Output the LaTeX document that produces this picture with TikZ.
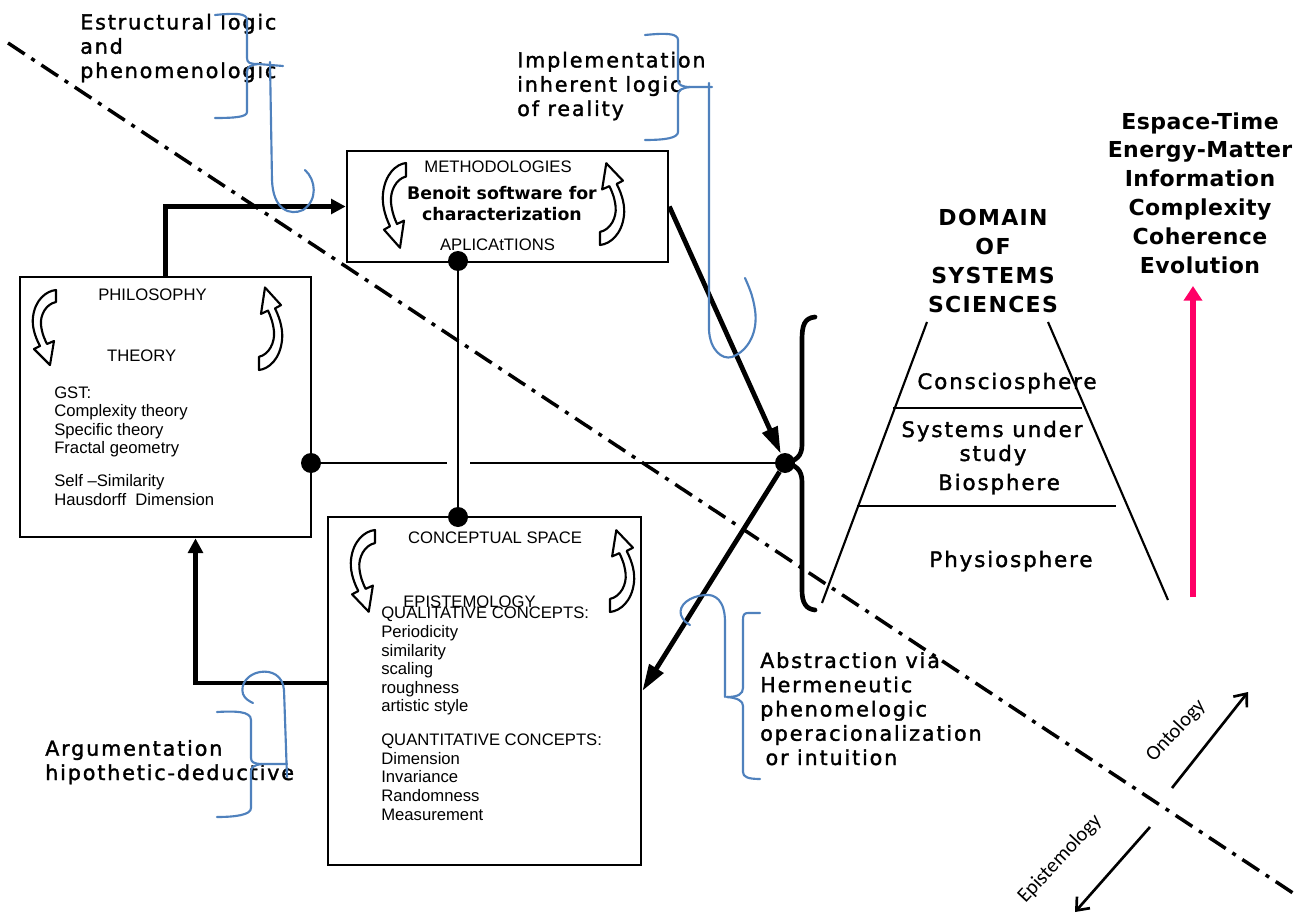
\documentclass[tikz,border=0pt]{standalone}
\usepackage{fontspec}
\setmainfont{Liberation Sans}
\usetikzlibrary{arrows.meta,calc}
\newfontfamily\boxfont{Liberation Sans}
\newfontfamily\dvmed[LetterSpace=9,FakeBold=1.6]{DejaVu Sans}
\newfontfamily\dvsans[LetterSpace=6]{DejaVu Sans}
\newfontfamily\dvtight[LetterSpace=2]{DejaVu Sans}
\newfontfamily\dvplain{DejaVu Sans}
\newfontfamily\calib{Carlito}
\definecolor{inkblue}{RGB}{79,129,189}
\definecolor{evored}{RGB}{255,0,102}

\tikzset{
  turnarrow/.pic={
    \path[glyph] (24,0) -- (24,12)
      .. controls (14,14) and (8,25) .. (9,35)
      .. controls (10,44) and (13,50) .. (15,54)
      -- (22,51) -- (18,75) -- (2,59) -- (8,56)
      .. controls (2,45) and (0,35) .. (1,27)
      .. controls (3,10) and (14,1) .. (24,0) -- cycle;
  }
}

\begin{document}
\begin{tikzpicture}[x=0.75pt,y=-0.75pt,
  box/.style={draw, line width=2pt, inner sep=0},
  dot/.style={circle, fill=black, inner sep=0, minimum size=15pt},
  bigarrow/.style={line width=3.6pt, -{Triangle[length=20pt,width=12pt]}},
  elbowarrow/.style={line width=3.2pt, -{Triangle[length=11pt,width=11pt]}, line join=miter},
  thinline/.style={line width=1.2pt},
  bracefig/.style={line width=3.5pt, line cap=round},
  trap/.style={line width=1.6pt},
  blueink/.style={draw=inkblue, line width=1.6pt, line cap=round, line join=round},
  glyph/.style={draw, line width=1.6pt, fill=white, line join=round},
  divider/.style={line width=2.6pt, dash pattern=on 15pt off 6pt on 3pt off 6pt},
  axisarrow/.style={line width=2pt, -{Straight Barb[length=8pt,width=13pt,line width=2pt]}},
  evoarrow/.style={draw=evored, line width=5pt, -{Triangle[length=11pt,width=13.5pt]}},
  boxtxt/.style={font=\boxfont\fontsize{12.5}{13.9}\selectfont, inner sep=0},
  medtxt/.style={font=\dvmed\fontsize{15.5}{18.2}\selectfont, inner sep=0, align=left},
  spheretxt/.style={font=\dvmed\fontsize{16}{20}\selectfont, inner sep=0},
  headtxt/.style={font=\dvsans\bfseries\fontsize{16.5}{21.6}\selectfont, inner sep=0, align=center},
  stacktxt/.style={font=\dvtight\bfseries\fontsize{16.5}{21.6}\selectfont, inner sep=0, align=center},
  axistxt/.style={font=\calib\fontsize{15.5}{18}\selectfont, inner sep=0, rotate=47}
]
\useasboundingbox (0,0) rectangle (1297,917);
\fill[white] (0,0) rectangle (1297,917);

% diagonal divider between epistemology and ontology
\coordinate (divA) at (8,43);
\coordinate (divB) at (1293,893);
\draw[divider] (divA) -- (divB);

% the three boxes
\node[box, minimum width=240.75pt, minimum height=83.25pt] (meth) at (507.5,206.5) {};
\node[box, minimum width=218.25pt, minimum height=195pt] (philo) at (165.5,407) {};
\node[box, minimum width=234.75pt, minimum height=261pt] (concept) at (484.5,691) {};

% curled arrows inside the boxes
\pic at (32,290) {turnarrow};
\pic[rotate=180, yscale=1.1] at (283,370) {turnarrow};
\pic[yscale=1.13] at (382,163) {turnarrow};
\pic[rotate=180, yscale=1.09, xscale=1.04] at (625,245) {turnarrow};
\pic[yscale=1.09, xscale=1.04] at (350,530) {turnarrow};
\pic[rotate=180, yscale=1.09, xscale=1.04] at (635,612) {turnarrow};

% junction dots
\node[dot] (dM) at (458,261) {};
\node[dot] (dC) at (458,517) {};
\node[dot] (dP) at (311,463) {};
\node[dot] (dJ) at (785,463) {};
\coordinate (hopL) at (447,463);
\coordinate (hopR) at (470,463);

\draw[thinline] (dM) -- (dC);
\draw[thinline] (dP) -- (hopL);
\draw[thinline] (hopR) -- (dJ);

% main flow arrows
\draw[elbowarrow] (philo.north) |- (meth.west);
\draw[bigarrow] (meth.east) -- (dJ);
\draw[bigarrow] (dJ) -- (concept.east);
\draw[elbowarrow] ($(concept.west)+(0,-8)$) -| ($(philo.south)+(30,0)$);

% black brace gathering the domain
\draw[bracefig] (815,317) .. controls (804,318) and (802,326) .. (802,340) -- (802,445)
  .. controls (802,456) and (796,461) .. (dJ.center)
  .. controls (796,465) and (802,470) .. (802,482) -- (802,590)
  .. controls (802,603) and (806,609) .. (815,610);

% domain of systems sciences
\coordinate (tlA) at (927,322); \coordinate (tlB) at (822,603);
\coordinate (trA) at (1048,322); \coordinate (trB) at (1168,600);
\draw[trap] (tlA) -- (tlB);
\draw[trap] (trA) -- (trB);
\draw[trap] (893,408) -- (1082,408);
\draw[trap] (857,506) -- (1116,506);

% box texts (multi-line nodes are placed by the baseline of their last line)
\node[boxtxt, anchor=base] (methT) at (498,172) {METHODOLOGIES};
\node[anchor=base, inner sep=0, font=\dvplain\bfseries\fontsize{13}{15.75}\selectfont, align=center] (benoit) at (502,220) {Benoit software for\\characterization};
\node[boxtxt, anchor=base] (aplic) at (497.5,250) {APLICAtTIONS};

\node[boxtxt, anchor=base] (philT) at (152.5,300) {PHILOSOPHY};
\node[boxtxt, anchor=base] (theory) at (141.7,361) {THEORY};
\node[boxtxt, anchor=base west, align=left] (gst) at (54,505) {GST:\\Complexity theory\\Specific theory\\Fractal geometry\\[10.7pt]Self –Similarity\\Hausdorff\ \ Dimension};

\node[boxtxt, anchor=base] (concT) at (495,543) {CONCEPTUAL SPACE};
\node[boxtxt, anchor=base west] (episT) at (403,607) {EPISTEMOLOGY};
\node[boxtxt, anchor=base west, align=left] (qual) at (381,820) {QUALITATIVE CONCEPTS:\\Periodicity\\similarity\\scaling\\roughness\\artistic style\\[11.8pt]QUANTITATIVE CONCEPTS:\\Dimension\\Invariance\\Randomness\\Measurement};

% outer labels
\node[medtxt, anchor=base west] (estr) at (80,78) {Estructural logic\\and\\phenomenologic};
\node[medtxt, anchor=base west] (impl) at (517,116) {Implementation\\inherent logic\\of reality};
\node[medtxt, anchor=base west] (abstr) at (760,765) {Abstraction via\\Hermeneutic\\phenomelogic\\operacionalization\\\hspace{4pt}or intuition};
\node[medtxt, anchor=base west] (argu) at (45,780) {Argumentation\\hipothetic-deductive};

\node[headtxt, anchor=base] (domain) at (993,312) {DOMAIN\\OF\\SYSTEMS\\SCIENCES};
\node[stacktxt, anchor=base] (props) at (1200,273) {Espace-Time\\Energy-Matter\\Information\\Complexity\\Coherence\\Evolution};

\node[spheretxt, anchor=base] (consc) at (1007,389) {Consciosphere};
\node[spheretxt, anchor=base] (sys1) at (992,437) {Systems under};
\node[spheretxt, anchor=base] (sys2) at (993,461) {study};
\node[spheretxt, anchor=base] (sys3) at (999,490) {Biosphere};
\node[spheretxt, anchor=base] (physio) at (1011,567) {Physiosphere};

% evolution arrow
\coordinate (evoA) at (1193,597);
\coordinate (evoB) at (1193,286);
\draw[evoarrow] (evoA) -- (evoB);

% ontology / epistemology axis
\coordinate (ontoA) at (1172,788); \coordinate (ontoB) at (1248,692);
\coordinate (epiA) at (1150,827); \coordinate (epiB) at (1075,912);
\draw[axisarrow] (ontoA) -- (ontoB);
\draw[axisarrow] (epiA) -- (epiB);
\node[axistxt] (ontoL) at (1176,731) {Ontology};
\node[axistxt] (epiL) at (1060,859) {Epistemology};

% hand-drawn blue braces with their pointers
\draw[blueink] (215,15) .. controls (235,13) and (247,13) .. (247,20) -- (247,58)
  .. controls (247,63) and (250,64) .. (258,64) -- (283,66);
\draw[blueink] (258,64) .. controls (250,65) and (247,67) .. (247,72) -- (247,112)
  .. controls (247,117) and (235,118) .. (215,118);
\draw[blueink] (270,62) -- (272,180) .. controls (273,210) and (290,216) .. (303,210)
  .. controls (318,200) and (316,180) .. (305,170);

\draw[blueink] (645,35) .. controls (665,33) and (678,33) .. (678,40) -- (678,80)
  .. controls (678,85) and (682,87) .. (690,87) -- (712,87);
\draw[blueink] (690,87) .. controls (682,88) and (678,90) .. (678,95) -- (678,132)
  .. controls (678,138) and (665,140) .. (645,140);
\draw[blueink] (709,83) -- (709,330) .. controls (710,350) and (722,360) .. (732,357)
  .. controls (750,350) and (758,330) .. (755,310) .. controls (753,295) and (748,285) .. (745,278);

\draw[blueink] (760,613) -- (748,613) .. controls (744,613) and (743,615) .. (743,620) -- (743,688)
  .. controls (743,694) and (738,697) .. (727,697);
\draw[blueink] (727,697) .. controls (738,698) and (743,701) .. (743,706) -- (743,772)
  .. controls (743,777) and (748,779) .. (760,779);
\draw[blueink] (725,697) -- (725,622) .. controls (725,600) and (715,594) .. (705,595)
  .. controls (690,596) and (678,605) .. (681,615) .. controls (683,620) and (686,623) .. (690,625);

\draw[blueink] (217,712) .. controls (235,711) and (251,711) .. (251,720) -- (251,758)
  .. controls (251,762) and (254,764) .. (262,764) -- (287,764);
\draw[blueink] (262,764) .. controls (254,765) and (251,767) .. (251,772) -- (251,808)
  .. controls (251,815) and (235,817) .. (217,817);
\draw[blueink] (287,777) -- (284,690) .. controls (283,676) and (272,670) .. (260,672)
  .. controls (248,674) and (240,684) .. (243,694) .. controls (245,699) and (249,701) .. (253,703);
\end{tikzpicture}
\end{document}
